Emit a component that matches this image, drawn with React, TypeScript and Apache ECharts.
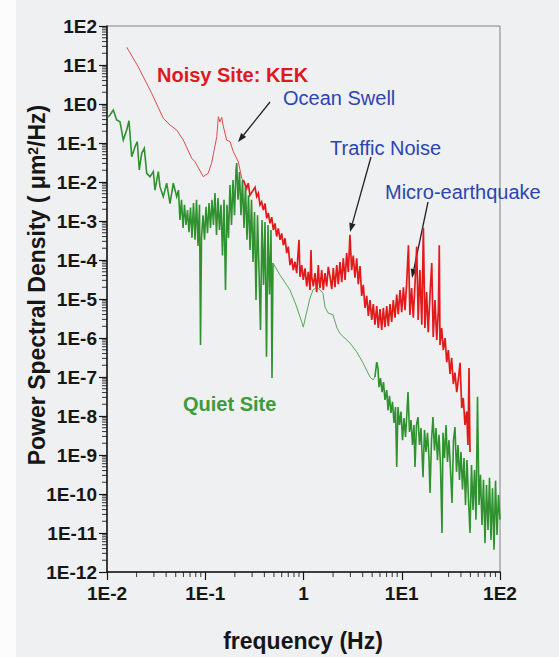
import React, { useEffect, useRef } from "react";
import * as echarts from "echarts";

// Noisy site (KEK): [frequency (Hz), PSD (um^2/Hz)]
const kekLowFreq: [number, number][] = [
  [0.0159, 28.5], [0.0208, 9.0], [0.0285, 1.88], [0.0374, 0.43], [0.0438, 0.29], [0.0512, 0.215],
  [0.0598, 0.119], [0.0728, 0.0405], [0.0787, 0.0332], [0.0955, 0.0137], [0.107, 0.0167], [0.116, 0.0301],
  [0.131, 0.145], [0.136, 0.472], [0.141, 0.35], [0.147, 0.456], [0.153, 0.262], [0.165, 0.119],
  [0.179, 0.108], [0.193, 0.06], [0.217, 0.033], [0.235, 0.0125],
];
const kekSwellBand: [number, number][] = [
  [0.244, 1.12e-2], [0.264, 6.9e-3], [0.274, 9.3e-3], [0.285, 4.6e-3], [0.308, 6.2e-3], [0.321, 7.3e-3],
  [0.334, 4.2e-3], [0.347, 5.1e-3], [0.361, 2.6e-3], [0.375, 3.1e-3], [0.39, 1.9e-3], [0.406, 2.8e-3],
  [0.422, 1.17e-3], [0.439, 1.6e-3], [0.456, 8.7e-4], [0.475, 1.25e-3], [0.493, 5.9e-4], [0.513, 8.7e-4],
  [0.533, 4.0e-4], [0.554, 6.5e-4], [0.577, 3.3e-4], [0.6, 4.8e-4], [0.623, 2.4e-4], [0.649, 3.6e-4],
  [0.675, 1.5e-4], [0.7, 2.2e-4], [0.729, 7.4e-5], [0.759, 1.1e-4], [0.787, 5.5e-5], [0.819, 9.0e-5],
  [0.853, 4.6e-5], [0.9, 3.3e-4], [0.921, 3.7e-5], [0.959, 7.4e-5], [0.995, 3.1e-5], [1.036, 6.1e-5],
  [1.078, 2.1e-5], [1.119, 5.0e-5], [1.165, 1.7e-5], [1.192, 1.8e-4], [1.212, 3.7e-5], [1.258, 2.1e-5],
  [1.309, 4.6e-5], [1.363, 1.5e-5], [1.415, 7.4e-5], [1.438, 3.1e-5], [1.472, 1.9e-5], [1.532, 5.5e-5],
  [1.59, 1.7e-5], [1.655, 4.6e-5], [1.722, 2.1e-5], [1.788, 6.7e-5], [1.861, 3.7e-5],
];
const kekTrafficBand: [number, number][] = [
  [1.94, 1.8e-5], [2.01, 6.2e-5], [2.09, 2.0e-5], [2.18, 7.4e-5], [2.26, 2.4e-5], [2.35, 8.9e-5],
  [2.45, 2.7e-5], [2.54, 1.1e-4], [2.65, 3.1e-5], [2.75, 1.5e-4], [2.86, 4.9e-5], [2.97, 4.4e-4],
  [3.09, 5.5e-5], [3.21, 1.3e-4], [3.34, 3.5e-5], [3.48, 1.1e-4], [3.61, 2.4e-5], [3.76, 7.0e-5],
  [3.91, 1.2e-5], [4.06, 2.3e-5], [4.23, 5.9e-6], [4.4, 1.2e-5], [4.57, 3.7e-6], [4.75, 9.4e-6],
  [4.95, 2.9e-6], [5.13, 7.4e-6], [5.34, 2.2e-6], [5.56, 6.6e-6], [5.77, 1.8e-6], [6.01, 5.5e-6],
  [6.25, 1.6e-6], [6.49, 5.9e-6], [6.75, 1.9e-6], [7.03, 6.6e-6], [7.3, 2.0e-6], [7.59, 7.4e-6],
  [7.9, 2.6e-6], [8.2, 9.4e-6], [8.54, 3.3e-6], [8.89, 1.3e-5], [9.22, 4.1e-6], [9.6, 1.7e-5],
];
const kekQuakeBand: [number, number][] = [
  [9.99, 4.6e-6], [10.4, 2.0e-5], [10.8, 5.2e-6], [11.2, 2.3e-5], [11.7, 2.4e-4], [12.1, 3.9e-6],
  [12.6, 1.9e-5], [13.1, 3.3e-6], [13.6, 2.0e-5], [14.2, 2.2e-4], [14.7, 2.9e-6], [15.3, 5.5e-5],
  [16.0, 2.2e-6], [16.6, 6.6e-4], [17.2, 1.8e-6], [17.9, 1.5e-5], [18.6, 1.4e-6], [19.4, 1.3e-5],
  [20.2, 8.4e-5], [20.9, 1.06e-6], [21.8, 9.4e-6], [22.7, 8.9e-7], [23.6, 5.2e-6], [24.1, 2.4e-4],
  [24.5, 6.6e-7], [25.5, 1.8e-6], [26.5, 4.9e-7], [27.6, 1.0e-6], [28.7, 2.4e-7], [29.8, 4.9e-7],
  [31.0, 1.2e-7], [32.2, 3.1e-7], [33.5, 6.6e-8], [34.8, 1.3e-7], [36.3, 4.1e-8], [37.6, 8.4e-8],
  [39.2, 2.3e-7], [40.8, 1.6e-8], [42.3, 2.9e-8], [44.0, 5.9e-9], [45.8, 1.3e-8], [47.2, 1.8e-9],
  [48.4, 1.7e-7], [49.5, 1.2e-9],
];

// Quiet site: [frequency (Hz), PSD (um^2/Hz)]
const quietLowFreq: [number, number][] = [
  [0.01024, 0.464], [0.01073, 0.522], [0.01158, 0.702], [0.01255, 0.389], [0.01356, 0.352], [0.01465, 0.119],
  [0.01587, 0.215], [0.01674, 0.373], [0.01784, 0.0446], [0.01928, 0.0804], [0.02034, 0.108], [0.02132, 0.0203],
  [0.02255, 0.0545], [0.02397, 0.0731], [0.02536, 0.0167], [0.0274, 0.0137], [0.0296, 0.0184], [0.0308, 6.2e-3],
  [0.0333, 0.0184], [0.0346, 7.6e-3], [0.0374, 4.2e-3], [0.0405, 9.3e-3], [0.0438, 2.8e-3], [0.0473, 9.3e-3],
  [0.0512, 4.2e-3], [0.0534, 6.2e-3], [0.0553, 1.06e-3], [0.0573, 3.5e-3], [0.0594, 6.6e-4], [0.0615, 2.6e-3],
  [0.0637, 7.9e-4], [0.066, 1.9e-3], [0.0683, 5.2e-4], [0.0708, 2.2e-3], [0.0733, 3.7e-4], [0.0759, 2.9e-3],
  [0.0787, 3.3e-4], [0.0815, 3.5e-3], [0.0844, 2.3e-4], [0.0874, 2.6e-3], [0.0895, 6.6e-7], [0.0916, 3.7e-4],
  [0.0949, 1.4e-3], [0.0983, 3.3e-4], [0.1018, 2.3e-3], [0.1054, 4.9e-4], [0.1092, 2.9e-3], [0.1131, 6.6e-4],
  [0.1171, 3.5e-3], [0.1213, 7.9e-4], [0.1256, 5.2e-3], [0.1302, 4.4e-4], [0.1348, 3.9e-3], [0.1396, 5.9e-4],
  [0.1446, 2.6e-3], [0.1498, 1.3e-4], [0.1552, 3.5e-3], [0.1607, 1.7e-5], [0.1665, 2.6e-3], [0.1724, 3.7e-4],
  [0.1786, 8.4e-3], [0.185, 7.9e-4], [0.1916, 0.0112], [0.1985, 1.4e-3], [0.2056, 0.0203], [0.209, 0.0307],
  [0.2154, 3.5e-3], [0.2231, 0.018], [0.2311, 1.4e-3], [0.2394, 0.0112], [0.248, 6.6e-4], [0.2569, 8.4e-3],
  [0.266, 3.3e-4], [0.2756, 4.6e-3], [0.2855, 1.8e-4], [0.2957, 3.5e-3], [0.3062, 8.9e-5], [0.3172, 1.7e-3],
  [0.3285, 9.4e-6], [0.3403, 1.4e-3], [0.3525, 5.5e-5], [0.365, 1.6e-6], [0.3781, 1.06e-3], [0.3916, 2.3e-5],
  [0.4057, 9.4e-4], [0.4202, 3.3e-7], [0.4352, 7.9e-4], [0.4507, 1.3e-5], [0.4669, 5.9e-4], [0.4779, 9.4e-8],
  [0.4893, 8.4e-5],
];
const quietMidFreq: [number, number][] = [
  [0.577, 4.1e-5], [0.729, 1.7e-5], [0.839, 7.0e-6], [0.959, 2.6e-6], [0.995, 1.9e-6], [1.06, 3.9e-6],
  [1.165, 1.06e-5], [1.249, 1.7e-5], [1.363, 2.0e-5], [1.472, 1.7e-5], [1.579, 1.4e-5], [1.655, 6.2e-6],
  [1.776, 4.4e-6], [1.997, 3.9e-6], [2.193, 1.8e-6], [2.352, 1.3e-6], [2.753, 8.9e-7], [2.974, 7.4e-7],
  [3.479, 4.4e-7], [4.033, 2.3e-7], [4.752, 1.0e-7], [5.097, 8.4e-8],
];
const quietHighFreq: [number, number][] = [
  [5.34, 1.0e-7], [5.56, 2.4e-7], [5.73, 1.7e-7], [5.87, 5.5e-8], [6.08, 9.4e-8], [6.3, 4.1e-8],
  [6.52, 7.4e-8], [6.75, 2.6e-8], [7.03, 4.6e-8], [7.25, 1.4e-8], [7.5, 3.3e-8], [7.77, 1.2e-8],
  [8.05, 2.3e-8], [8.34, 6.6e-9], [8.64, 1.7e-8], [8.89, 4.9e-10], [9.16, 1.7e-8], [9.49, 5.9e-9],
  [9.83, 1.3e-8], [10.18, 2.4e-9], [10.54, 8.9e-9], [10.92, 2.9e-9], [11.31, 1.3e-8], [11.58, 4.1e-8],
  [11.99, 3.9e-9], [12.42, 7.9e-9], [12.86, 1.8e-9], [13.32, 5.9e-9], [13.64, 4.9e-10], [14.13, 5.9e-9],
  [14.64, 9.4e-9], [15.16, 1.8e-9], [15.7, 4.9e-9], [16.46, 2.7e-10], [17.04, 4.4e-9], [17.65, 1.2e-9],
  [18.29, 3.7e-9], [18.94, 8.4e-10], [19.39, 1.06e-10], [20.09, 2.4e-9], [20.8, 9.4e-9], [21.54, 1.3e-9],
  [22.31, 4.9e-9], [23.11, 7.4e-10], [23.93, 3.3e-9], [24.79, 5.5e-10], [25.68, 1.0e-11], [26.29, 3.7e-9],
  [27.23, 8.4e-10], [28.21, 5.9e-9], [29.21, 6.6e-10], [30.26, 2.4e-9], [31.35, 4.1e-10], [32.47, 5.9e-11],
  [33.63, 2.4e-9], [34.83, 5.2e-9], [36.08, 3.7e-10], [37.37, 1.8e-9], [38.71, 2.3e-10], [40.1, 1.2e-9],
  [41.53, 1.3e-10], [43.02, 8.4e-10], [44.56, 5.2e-11], [46.14, 7.4e-10], [47.8, 7.0e-11], [49.51, 1.0e-11],
  [51.28, 5.5e-10], [53.12, 3.9e-11], [55.02, 4.1e-10], [56.98, 2.2e-11], [59.02, 3.1e-8], [61.13, 5.2e-11],
  [63.32, 3.1e-10], [65.59, 1.6e-11], [67.94, 2.3e-10], [70.36, 5.5e-12], [72.88, 1.7e-10], [75.49, 1.2e-11],
  [78.19, 2.6e-10], [80.98, 6.6e-12], [83.88, 1.4e-10], [86.88, 3.7e-12], [89.99, 2.2e-10], [93.22, 8.9e-12],
  [96.54, 9.4e-11], [100, 2.2e-11],
];

const xTickLabels = ["1E-2", "1E-1", "1", "1E1", "1E2"];
const yTickLabels = [
  "1E-12", "1E-11", "1E-10", "1E-9", "1E-8", "1E-7", "1E-6", "1E-5",
  "1E-4", "1E-3", "1E-2", "1E-1", "1E0", "1E1", "1E2",
];
const xDecades = [0.01, 0.1, 1, 10];
const yDecades = [1e-12, 1e-11, 1e-10, 1e-9, 1e-8, 1e-7, 1e-6, 1e-5, 1e-4, 1e-3, 1e-2, 1e-1, 1, 10];
const minorSteps = [2, 3, 4, 5, 6, 7, 8, 9];

const FONT = '"Liberation Sans", Arial, Helvetica, sans-serif';
const INK = "#161616";
const RED = "#e31a1a";
const RED_THIN = "#e04a4a";
const GREEN = "#2f922f";
const GREEN_THIN = "#5aa65a";

function arrow(x1: number, y1: number, x2: number, y2: number) {
  const dx = x2 - x1;
  const dy = y2 - y1;
  const len = Math.hypot(dx, dy);
  const ux = dx / len;
  const uy = dy / len;
  const L = 9;
  const W = 3.2;
  const bx = x2 - ux * L;
  const by = y2 - uy * L;
  return {
    type: "group",
    silent: true,
    children: [
      { type: "line", shape: { x1, y1, x2: bx, y2: by }, style: { stroke: "#222", lineWidth: 1.3 } },
      {
        type: "polygon",
        shape: { points: [[x2, y2], [bx - uy * W, by + ux * W], [bx + uy * W, by - ux * W]] },
        style: { fill: "#222" },
      },
    ],
  };
}

function label(text: string, x: number, y: number, color: string, bold: boolean) {
  return {
    type: "text",
    x,
    y,
    silent: true,
    style: {
      text,
      fill: color,
      font: `${bold ? "bold " : ""}20px ${FONT}`,
      align: "left",
      verticalAlign: "middle",
    },
  };
}

function lineSeries(name: string, data: [number, number][], color: string, width: number, z: number) {
  return {
    name,
    type: "line",
    data,
    showSymbol: false,
    symbol: "none",
    lineStyle: { color, width, join: "miter" },
    z,
  };
}

export default function App() {
  const ref = useRef<HTMLDivElement>(null);
  useEffect(() => {
    if (!ref.current) return;
    const chart = echarts.init(ref.current, null, { renderer: "svg" });
    const expIndex = (v: number) => Math.round(Math.log10(v));
    const kekNoisy = [...kekSwellBand, ...kekTrafficBand, ...kekQuakeBand];
    const option: any = {
      animation: false,
      backgroundColor: "#eef0f2",
      grid: {
        left: 107,
        top: 26,
        width: 393,
        height: 546,
        show: true,
        borderColor: "#808080",
        borderWidth: 1,
        backgroundColor: "transparent",
      },
      xAxis: {
        type: "log",
        logBase: 10,
        min: 0.01,
        max: 100,
        interval: 1,
        axisLine: { lineStyle: { color: INK, width: 1.5 } },
        axisTick: { length: 8, lineStyle: { color: INK, width: 1.2 } },
        axisLabel: {
          formatter: (v: number) => xTickLabels[expIndex(v) + 2] ?? "",
          fontSize: 19,
          fontWeight: "bold",
          fontFamily: FONT,
          color: INK,
          margin: 12,
        },
        splitLine: { show: false },
        minorTick: { show: false },
      },
      yAxis: {
        type: "log",
        logBase: 10,
        min: 1e-12,
        max: 100,
        interval: 1,
        axisLine: { lineStyle: { color: INK, width: 1.5 } },
        axisTick: { length: 8, lineStyle: { color: INK, width: 1.2 } },
        axisLabel: {
          formatter: (v: number) => yTickLabels[expIndex(v) + 12] ?? "",
          fontSize: 19,
          fontWeight: "bold",
          fontFamily: FONT,
          color: INK,
          margin: 10,
        },
        splitLine: { show: false },
        minorTick: { show: false },
      },
      series: [
        lineSeries("Quiet Site", quietLowFreq, GREEN, 1.6, 3),
        lineSeries(
          "Quiet Site (mid band)",
          [quietLowFreq[quietLowFreq.length - 1], ...quietMidFreq, quietHighFreq[0]],
          GREEN_THIN,
          1,
          3
        ),
        lineSeries("Quiet Site (high band)", quietHighFreq, GREEN, 1.6, 3),
        lineSeries("Noisy Site: KEK (low band)", [...kekLowFreq, kekSwellBand[0]], RED_THIN, 1, 4),
        lineSeries("Noisy Site: KEK", kekNoisy, RED, 1.7, 4),
        {
          name: "x minor ticks",
          type: "scatter",
          data: xDecades.flatMap((d) => minorSteps.map((m) => [d * m, 1e-12])),
          symbol: "rect",
          symbolSize: [1.1, 5],
          symbolOffset: [0, 2.5],
          itemStyle: { color: INK },
          clip: false,
          silent: true,
          z: 6,
        },
        {
          name: "y minor ticks",
          type: "scatter",
          data: yDecades.flatMap((d) => minorSteps.map((m) => [0.01, d * m])),
          symbol: "rect",
          symbolSize: [5, 1.1],
          symbolOffset: [-2.5, 0],
          itemStyle: { color: INK },
          clip: false,
          silent: true,
          z: 6,
        },
      ],
      graphic: [
        { type: "rect", shape: { x: 0, y: 0, width: 16, height: 657 }, style: { fill: "#fcfcfc" }, silent: true },
        {
          type: "text",
          x: 37,
          y: 285,
          rotation: Math.PI / 2,
          silent: true,
          style: {
            text: "{a|Power Spectral Density ( \u03bcm}{b|2}{a|/Hz)}",
            align: "center",
            verticalAlign: "middle",
            fill: INK,
            rich: {
              a: { fontSize: 23, fontWeight: "bold", fontFamily: FONT, fill: INK },
              b: { fontSize: 14, fontWeight: "bold", fontFamily: FONT, fill: INK, verticalAlign: "top" },
            },
          },
        },
        {
          type: "text",
          x: 303,
          y: 641,
          silent: true,
          style: {
            text: "frequency (Hz)",
            font: `bold 23px ${FONT}`,
            fill: INK,
            align: "center",
            verticalAlign: "middle",
          },
        },
        label("Noisy Site: KEK", 157, 75, "#e0191e", true),
        label("Ocean Swell", 283, 98, "#2c45b2", false),
        label("Traffic Noise", 330, 148, "#2c45b2", false),
        label("Micro-earthquake", 385, 192, "#2c45b2", false),
        label("Quiet Site", 183, 404, "#3d9a3d", true),
        arrow(270, 102, 238, 142),
        arrow(371, 157, 350, 232),
        arrow(428, 202, 412, 278),
      ],
    };
    chart.setOption(option);
    return () => chart.dispose();
  }, []);
  return (
    <div
      ref={ref}
      style={{ position: "absolute", left: 0, top: 0, width: 559, height: 657 }}
    />
  );
}
